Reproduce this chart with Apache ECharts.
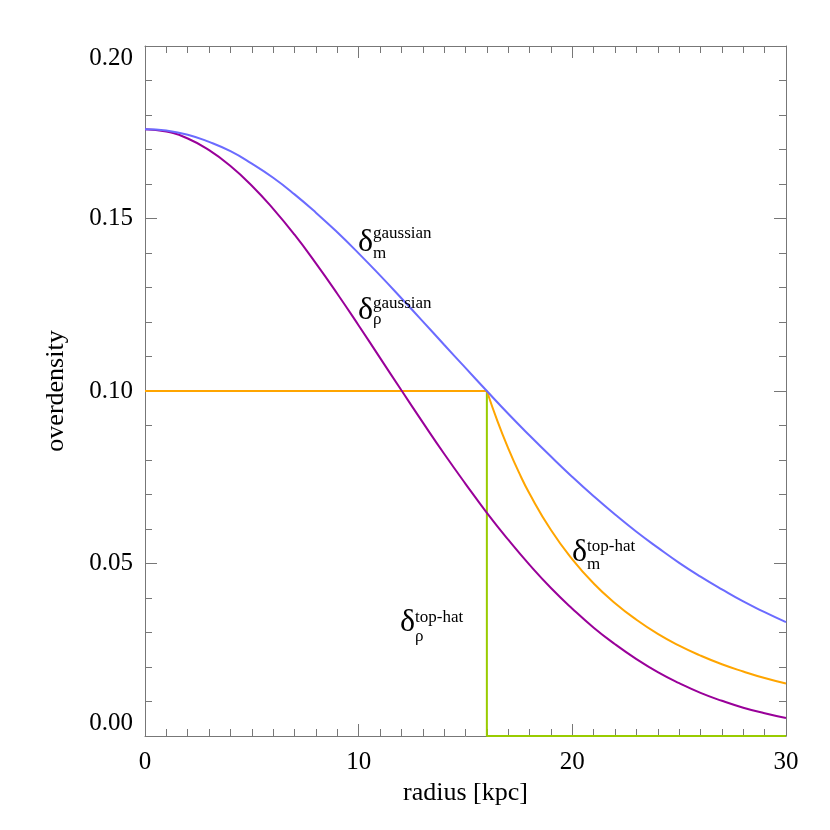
<!DOCTYPE html>
<html>
<head>
<meta charset="utf-8">
<script src="https://cdn.jsdelivr.net/npm/echarts@6/dist/echarts.min.js"></script>
<style>
  html, body { margin: 0; padding: 0; background: #fff; }
  #chart { width: 830px; height: 830px; }
</style>
</head>
<body>
<div id="chart"></div>
<script>
// radius grid in kpc
var radius = [0, 1, 2, 3, 4, 5, 6, 7, 8, 9, 10, 11, 12, 13, 14, 15, 16, 17, 18, 19, 20,
  21, 22, 23, 24, 25, 26, 27, 28, 29, 30];

// gaussian profiles
var rhoGaussian = [0.1759, 0.1752, 0.1732, 0.1698, 0.1652, 0.1595, 0.1528, 0.1453, 0.1370,
  0.1282, 0.1190, 0.1096, 0.1002, 0.0909, 0.0818, 0.0731, 0.0647, 0.0569, 0.0496, 0.0429,
  0.0369, 0.0314, 0.0266, 0.0223, 0.0185, 0.0153, 0.0125, 0.0102, 0.0082, 0.0066, 0.0052];
var mGaussian = [0.1759, 0.1755, 0.1743, 0.1722, 0.1695, 0.1659, 0.1618, 0.1570, 0.1517,
  0.1460, 0.1399, 0.1335, 0.1269, 0.1202, 0.1134, 0.1067, 0.1000, 0.0934, 0.0871, 0.0810,
  0.0751, 0.0695, 0.0642, 0.0592, 0.0546, 0.0502, 0.0462, 0.0425, 0.0390, 0.0359, 0.0330];

// top-hat profiles
var flatRadius = [0, 16];
var flatValue = [0.1, 0.1];
var mTopHatRadius = [16, 16.5, 17, 17.5, 18, 19, 20, 21, 22, 23, 24, 25, 26, 27, 28, 29, 30];
var mTopHat = [0.1, 0.0912, 0.0834, 0.0764, 0.0702, 0.0597, 0.0512, 0.0442, 0.0385, 0.0337,
  0.0296, 0.0262, 0.0233, 0.0208, 0.0187, 0.0168, 0.0152];
var rhoTopHatRadius = [0, 16, 16, 30];
var rhoTopHat = [0.1, 0.1, 0, 0];

var xTicks = [0, 10, 20, 30];
var yTicks = [0.00, 0.05, 0.10, 0.15, 0.20];

function pairs(xs, ys) {
  return xs.map(function (x, i) { return [x, ys[i]]; });
}

var font = 'Liberation Serif';
var axisColor = '#777';

var chart = echarts.init(document.getElementById('chart'));

function frameAxis(pos, isX) {
  return {
    type: 'value',
    position: pos,
    min: isX ? xTicks[0] : yTicks[0],
    max: isX ? xTicks[xTicks.length - 1] : yTicks[yTicks.length - 1],
    interval: isX ? 10 : 0.05,
    axisLine: { show: true, onZero: false, lineStyle: { color: axisColor, width: 1 } },
    axisTick: { show: true, inside: true, length: 12, lineStyle: { color: axisColor } },
    minorTick: { show: true, splitNumber: isX ? 10 : 5, length: 7, lineStyle: { color: axisColor } },
    splitLine: { show: false },
    minorSplitLine: { show: false },
    axisLabel: { show: false }
  };
}

var xBottom = frameAxis('bottom', true);
xBottom.axisLabel = { show: true, fontFamily: font, fontSize: 25, color: '#000', margin: 14 };
xBottom.name = 'radius [kpc]';
xBottom.nameLocation = 'middle';
xBottom.nameGap = 42;
xBottom.nameTextStyle = { fontFamily: font, fontSize: 26, color: '#000' };

var yLeft = frameAxis('left', false);
yLeft.axisLabel = {
  show: true, fontFamily: font, fontSize: 25, color: '#000', margin: 12,
  formatter: function (v) { return v.toFixed(2); },
  verticalAlignMinLabel: 'bottom', verticalAlignMaxLabel: 'top'
};
yLeft.name = 'overdensity';
yLeft.nameLocation = 'middle';
yLeft.nameGap = 76;
yLeft.nameTextStyle = { fontFamily: font, fontSize: 26, color: '#000' };

var option = {
  backgroundColor: '#fff',
  animation: false,
  grid: { left: 145, right: 44, top: 46, bottom: 94, outerBoundsMode: 'none' },
  xAxis: [xBottom, frameAxis('top', true)],
  yAxis: [yLeft, frameAxis('right', false)],
  series: [
    { name: 'rho top-hat', type: 'line', data: pairs(rhoTopHatRadius, rhoTopHat), clip: false,
      showSymbol: false, lineStyle: { color: '#99cc00', width: 2 } },
    { name: 'm top-hat flat', type: 'line', data: pairs(flatRadius, flatValue),
      showSymbol: false, lineStyle: { color: '#ffa500', width: 2 } },
    { name: 'm top-hat', type: 'line', data: pairs(mTopHatRadius, mTopHat), smooth: true,
      showSymbol: false, lineStyle: { color: '#ffa500', width: 2 } },
    { name: 'rho gaussian', type: 'line', data: pairs(radius, rhoGaussian), smooth: true,
      showSymbol: false, lineStyle: { color: '#990099', width: 2 } },
    { name: 'm gaussian', type: 'line', data: pairs(radius, mGaussian), smooth: true,
      showSymbol: false, lineStyle: { color: '#6b6bff', width: 2 } }
  ],
  graphic: []
};

// curve labels: delta with super/subscript
function addLabel(x, yDelta, sup, ySup, sub, ySub) {
  option.graphic.push(
    { type: 'text', x: x, y: yDelta, z: 100,
      style: { text: 'δ', font: '32px "' + font + '"', fill: '#000', verticalAlign: 'middle' } },
    { type: 'text', x: x + 15, y: ySup, z: 100,
      style: { text: sup, font: '17px "' + font + '"', fill: '#000', verticalAlign: 'middle' } },
    { type: 'text', x: x + 15, y: ySub, z: 100,
      style: { text: sub, font: '17px "' + font + '"', fill: '#000', verticalAlign: 'middle' } }
  );
}
addLabel(358, 243, 'gaussian', 234, 'm', 254);
addLabel(358, 311, 'gaussian', 304, 'ρ', 320);
addLabel(572, 553, 'top-hat', 547, 'm', 565);
addLabel(400, 623, 'top-hat', 618, 'ρ', 637);

chart.setOption(option);
</script>
</body>
</html>
